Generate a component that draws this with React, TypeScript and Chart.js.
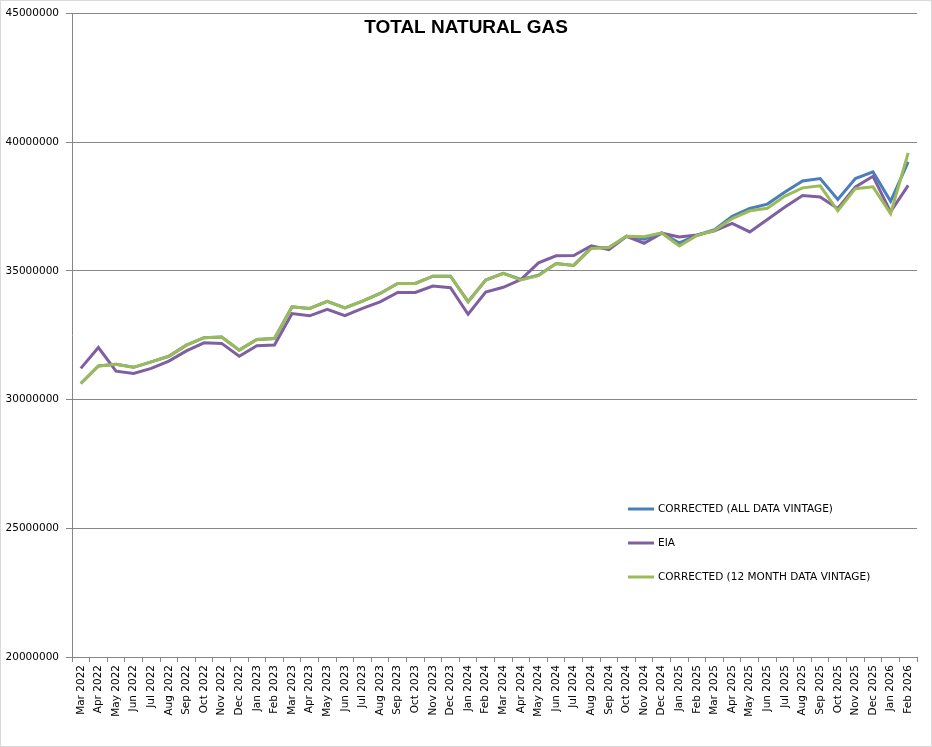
import React, { useEffect, useRef } from "react";
import { Chart, registerables } from "chart.js";

Chart.register(...registerables);

// Monthly totals, Mar 2022 – Feb 2026
const months: string[] = [
  "Mar 2022", "Apr 2022", "May 2022", "Jun 2022", "Jul 2022", "Aug 2022",
  "Sep 2022", "Oct 2022", "Nov 2022", "Dec 2022", "Jan 2023", "Feb 2023",
  "Mar 2023", "Apr 2023", "May 2023", "Jun 2023", "Jul 2023", "Aug 2023",
  "Sep 2023", "Oct 2023", "Nov 2023", "Dec 2023", "Jan 2024", "Feb 2024",
  "Mar 2024", "Apr 2024", "May 2024", "Jun 2024", "Jul 2024", "Aug 2024",
  "Sep 2024", "Oct 2024", "Nov 2024", "Dec 2024", "Jan 2025", "Feb 2025",
  "Mar 2025", "Apr 2025", "May 2025", "Jun 2025", "Jul 2025", "Aug 2025",
  "Sep 2025", "Oct 2025", "Nov 2025", "Dec 2025", "Jan 2026", "Feb 2026",
];

const correctedAllVintage: number[] = [
  30620000, 31300000, 31370000, 31250000, 31460000, 31680000,
  32110000, 32400000, 32430000, 31920000, 32330000, 32370000,
  33600000, 33540000, 33810000, 33560000, 33820000, 34120000,
  34510000, 34510000, 34790000, 34790000, 33800000, 34640000,
  34900000, 34660000, 34830000, 35280000, 35210000, 35890000,
  35900000, 36340000, 36230000, 36470000, 36080000, 36380000,
  36600000, 37120000, 37420000, 37590000, 38060000, 38490000,
  38580000, 37770000, 38580000, 38840000, 37700000, 39230000,
];

const eia: number[] = [
  31210000, 32020000, 31100000, 31010000, 31210000, 31490000,
  31890000, 32200000, 32180000, 31680000, 32090000, 32120000,
  33340000, 33250000, 33500000, 33260000, 33540000, 33790000,
  34160000, 34160000, 34410000, 34340000, 33310000, 34170000,
  34360000, 34660000, 35310000, 35580000, 35590000, 35970000,
  35820000, 36340000, 36070000, 36460000, 36310000, 36390000,
  36550000, 36840000, 36510000, 36990000, 37480000, 37920000,
  37870000, 37420000, 38260000, 38670000, 37290000, 38320000,
];

const corrected12Month: number[] = [
  30620000, 31300000, 31370000, 31250000, 31460000, 31680000,
  32110000, 32400000, 32430000, 31920000, 32330000, 32370000,
  33600000, 33540000, 33810000, 33560000, 33820000, 34120000,
  34510000, 34510000, 34790000, 34790000, 33800000, 34640000,
  34900000, 34640000, 34810000, 35280000, 35210000, 35870000,
  35900000, 36340000, 36320000, 36470000, 35960000, 36370000,
  36570000, 37030000, 37330000, 37430000, 37900000, 38220000,
  38300000, 37330000, 38190000, 38260000, 37220000, 39580000,
];

const yTicks: number[] = [20000000, 25000000, 30000000, 35000000, 40000000, 45000000];

const chartTitle = "TOTAL NATURAL GAS";

const seriesNames: string[] = [
  "CORRECTED (ALL DATA VINTAGE)",
  "EIA",
  "CORRECTED (12 MONTH DATA VINTAGE)",
];
const seriesColors: string[] = ["#4a7ebb", "#7f5fa1", "#9bbb59"];

const AXIS_GREY = "#868686";
const TICK_FONT = { family: "'DejaVu Sans', sans-serif", size: 10.5 };

// Frame, title and the in-plot legend
const decorations = {
  id: "decorations",
  afterDraw(chart: Chart) {
    const { ctx } = chart;
    ctx.save();
    // outer frame
    ctx.strokeStyle = "#d9d9d9";
    ctx.lineWidth = 1;
    ctx.strokeRect(0.5, 0.5, chart.width - 1, chart.height - 1);

    // title
    ctx.fillStyle = "#000";
    ctx.font = "bold 19px 'Liberation Sans', Arial, sans-serif";
    ctx.textAlign = "center";
    ctx.textBaseline = "alphabetic";
    ctx.fillText(chartTitle, 466, 33);

    // legend
    ctx.font = "10.5px 'DejaVu Sans', sans-serif";
    ctx.textAlign = "left";
    ctx.textBaseline = "middle";
    const lx = 628;
    const ly = 509;
    const gap = 34;
    seriesNames.forEach((name, i) => {
      const y = ly + i * gap;
      ctx.strokeStyle = seriesColors[i];
      ctx.lineWidth = 3;
      ctx.lineCap = "butt";
      ctx.beginPath();
      ctx.moveTo(lx, y);
      ctx.lineTo(lx + 26, y);
      ctx.stroke();
      ctx.fillStyle = "#000";
      ctx.fillText(name, lx + 30, y + 0.5);
    });
    ctx.restore();
  },
};

export default function App() {
  const canvasRef = useRef<HTMLCanvasElement | null>(null);

  useEffect(() => {
    document.body.style.margin = "0";
    const canvas = canvasRef.current;
    if (!canvas) return;

    const seriesData = [correctedAllVintage, eia, corrected12Month];
    const drawOrder = [3, 2, 1];

    const chart = new Chart(canvas, {
      type: "line",
      data: {
        labels: months,
        datasets: seriesData.map((values, i) => ({
          label: seriesNames[i],
          data: values,
          borderColor: seriesColors[i],
          backgroundColor: seriesColors[i],
          borderWidth: 3,
          pointRadius: 0,
          tension: 0,
          fill: false,
          order: drawOrder[i],
        })),
      },
      options: {
        responsive: false,
        animation: false,
        layout: { padding: { left: 0, top: 13, right: 15, bottom: 0 } },
        plugins: {
          legend: { display: false },
          title: { display: false },
          tooltip: { enabled: false },
        },
        scales: {
          x: {
            type: "category",
            offset: true,
            grid: {
              display: true,
              drawOnChartArea: false,
              drawTicks: true,
              tickLength: 5,
              offset: true,
              color: AXIS_GREY,
            },
            border: { display: true, color: AXIS_GREY, width: 1 },
            ticks: {
              autoSkip: false,
              maxRotation: 90,
              minRotation: 90,
              padding: 3,
              color: "#000",
              font: TICK_FONT,
            },
            afterFit(scale: any) {
              scale.height = 90;
            },
          },
          y: {
            min: yTicks[0],
            max: yTicks[yTicks.length - 1],
            afterBuildTicks(scale: any) {
              scale.ticks = yTicks.map((v) => ({ value: v }));
            },
            grid: {
              color: AXIS_GREY,
              lineWidth: 1,
              drawTicks: true,
              tickLength: 6,
            },
            border: { display: true, color: AXIS_GREY, width: 1 },
            ticks: {
              padding: 7,
              color: "#000",
              font: TICK_FONT,
              callback: (v: any) => String(v),
            },
            afterFit(scale: any) {
              scale.width = 72;
            },
          },
        },
      },
      plugins: [decorations],
    });

    return () => chart.destroy();
  }, []);

  return (
    <div style={{ width: 932, height: 747, background: "#fff" }}>
      <canvas ref={canvasRef} width={932} height={747} style={{ display: "block" }} />
    </div>
  );
}
